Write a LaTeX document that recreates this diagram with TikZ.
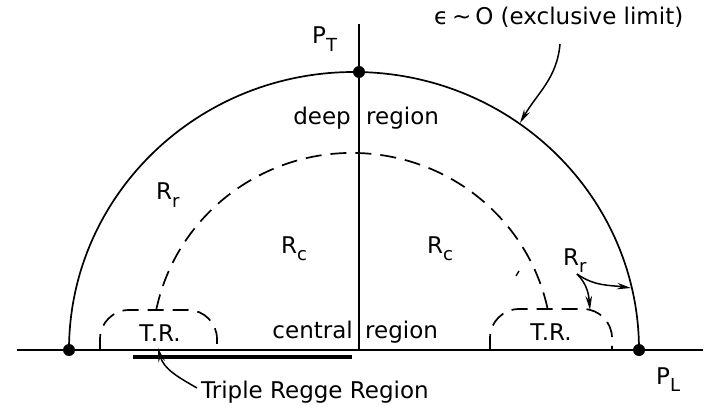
\documentclass[tikz,border=0pt]{standalone}
\usepackage{fontspec}
\setmainfont{DejaVu Sans}
\usetikzlibrary{arrows.meta}
\newcommand{\mysub}[1]{\raisebox{-0.32em}{\fontsize{18}{18}\selectfont #1}}
\begin{document}
\begin{tikzpicture}[x=1pt,y=1pt,
  solidline/.style={line width=1.7pt},
  dashline/.style={line width=1.7pt, dash pattern=on 16pt off 9pt},
  lbl/.style={inner sep=0pt, font=\fontsize{23}{27}\selectfont},
  arr/.style={line width=1.5pt, -{Stealth[length=14pt,width=6.5pt]}},
  dot/.style={circle, fill, inner sep=0pt, minimum size=12pt}]
\useasboundingbox (0,0) rectangle (709,410);
% axes
\draw[solidline] (17,60) -- (703,60);
\draw[solidline] (359,60) -- (359,386);
% outer boundary
\draw[solidline] (69,60) arc[start angle=180, end angle=0, x radius=285, y radius=278];
% inner dashed boundary
\draw[dashline] (156.2,100) arc[start angle=168.3, end angle=11.7, x radius=200, y radius=197];
% triple regge boxes
\draw[dashline, rounded corners=29pt] (100,60) -- (100,100) -- (217,100) -- (217,60);
\draw[dashline, rounded corners=29pt] (490,60) -- (490,101) -- (612,101) -- (612,60);
% thick line
\draw[line width=3.5pt] (133,53) -- (352,53);
% stray mark
\draw[line width=1.4pt] (516,134) -- (519,139);
% dots
\node[dot] (dotL) at (69,60) {};
\node[dot] (dotR) at (639,60) {};
\node[dot] (dotT) at (359,338) {};
% labels
\node[lbl, anchor=base west] (pt) at (312,366) {P\mysub{T}};
\node[lbl, anchor=base west] (pl) at (656,26) {P\mysub{L}};
\node[lbl, anchor=base west] (eps) at (434,385) {ϵ\,∼\,O (exclusive limit)};
\node[lbl, anchor=base east] (deep) at (351,285) {deep};
\node[lbl, anchor=base west] (reg1) at (366,285) {region};
\node[lbl, anchor=base east] (cen) at (353,72) {central};
\node[lbl, anchor=base west] (reg2) at (365,72) {region};
\node[lbl, anchor=base west] (rrl) at (156,210) {R\mysub{r}};
\node[lbl, anchor=base west] (rcl) at (281,157) {R\mysub{c}};
\node[lbl, anchor=base west] (rcr) at (427,157) {R\mysub{c}};
\node[lbl, anchor=base west] (rrr) at (563,145) {R\mysub{r}};
\node[lbl, anchor=base] (trl) at (160,69) {T.R.};
\node[lbl, anchor=base] (trr) at (551,70) {T.R.};
\node[lbl, anchor=base west] (trg) at (201,12) {Triple Regge Region};
% arrows
\coordinate (epsS) at (560,366);
\coordinate (epsT) at (520,287);
\draw[arr] (epsS) to[out=-95, in=60] (epsT);
\coordinate (rrS) at (577,136);
\coordinate (rrT1) at (631,122);
\coordinate (rrT2) at (590,100);
\draw[arr] (rrS) to[out=-35, in=172] (rrT1);
\draw[arr] (rrS) to[out=-45, in=95] (rrT2);
\coordinate (trS) at (197,22);
\coordinate (trT) at (158,62);
\draw[arr] (trS) to[out=150, in=-75] (trT);
\end{tikzpicture}
\end{document}
